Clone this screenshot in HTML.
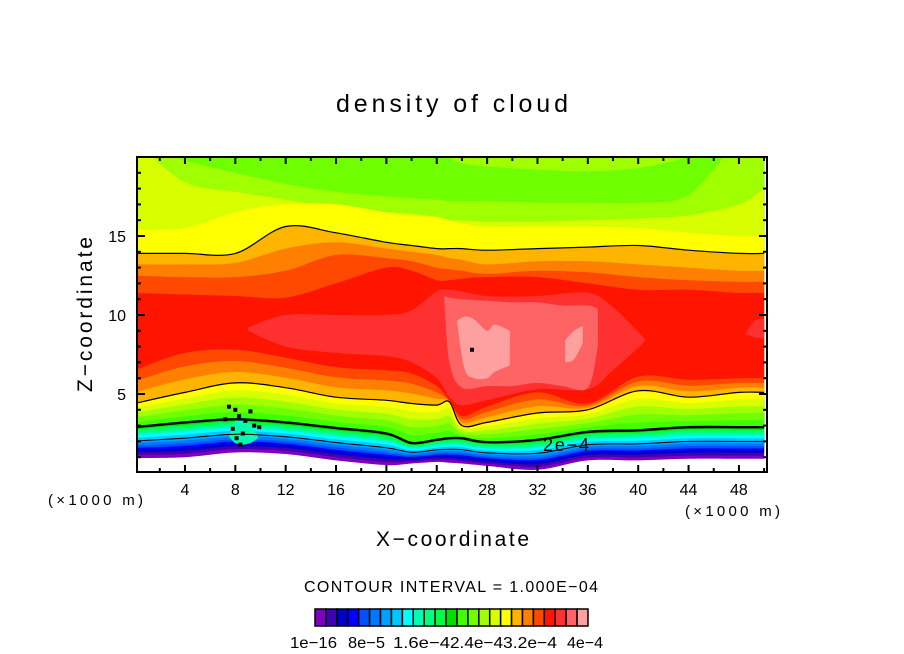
<!DOCTYPE html>
<html><head><meta charset="utf-8"><style>
html,body{margin:0;padding:0;background:#fff;}
svg{display:block;font-family:"Liberation Sans",sans-serif;}
</style></head><body>
<svg id="chart" width="904" height="654" viewBox="0 0 904 654" xmlns="http://www.w3.org/2000/svg">
<defs><clipPath id="plotclip"><rect x="137" y="157" width="630" height="315"/></clipPath></defs>
<rect width="904" height="654" fill="#fff"/>
<text x="336" y="112" font-size="25" textLength="232" lengthAdjust="spacing">density of cloud</text>
<g id="field" clip-path="url(#plotclip)"></g>
<g id="lines" clip-path="url(#plotclip)"></g>
<rect x="137" y="157" width="630" height="315" fill="none" stroke="#000" stroke-width="2"/>
<g id="ticks"></g>
<text x="48" y="505" font-size="15" textLength="95" lengthAdjust="spacing">(×1000 m)</text>
<text x="685" y="516" font-size="15" textLength="95" lengthAdjust="spacing">(×1000 m)</text>
<text x="376" y="546" font-size="21" textLength="153" lengthAdjust="spacing">X−coordinate</text>
<text transform="translate(92,392) rotate(-90)" font-size="21" textLength="155" lengthAdjust="spacing">Z−coordinate</text>
<text x="304" y="592" font-size="16" textLength="294">CONTOUR INTERVAL = 1.000E−04</text>
<g id="cbar"></g>
</svg>
<script>
// ---- data ----
const colors = ['#8000c0','#4000b0','#0000c8','#0000ff','#0050ff','#0078ff','#00a0ff','#00c8ff','#00ffff','#00ffb0','#00ff80','#00ff40','#00e000','#40ff00','#70ff00','#a0ff00','#d8ff00','#ffff00','#ffb400','#ff8000','#ff4800','#ff1400','#ff3030','#ff6464','#ffa0a0'];
const colorbarLabels = ['1e−16','8e−5','1.6e−4','2.4e−4','3.2e−4','4e−4'];
const xs = [0,4,8,12,16,20,22,24,25,26,28,32,36,40,44,48,50];
const groundZ = [0.95,1.0,1.3,1.2,0.8,0.5,0.6,0.7,0.65,0.6,0.45,0.2,0.8,0.8,0.9,0.9,0.9];
const thickZ  = [2.9,3.2,3.4,3.2,2.85,2.5,1.9,2.1,2.2,2.2,1.95,2.1,2.6,2.7,2.9,2.9,2.9];
const lowC19Z = [4.4,5.1,5.7,5.4,4.8,4.6,4.4,4.3,4.5,3.0,3.2,3.8,4.0,5.2,4.8,5.1,5.1];
const redBaseZ= [6.5,7.6,7.8,7.3,6.7,6.5,6.3,5.5,4.6,3.6,4.2,5.1,4.4,6.1,5.9,6.0,6.0];
const topC16Z = [21,19.8,19.0,18.3,17.8,17.5,17.4,17.3,17.2,17.2,17.2,17.1,17.1,17.1,17.6,21,21];
const topC17Z = [21,18.4,17.8,17.3,16.8,16.5,16.4,16.2,16.0,16.0,15.9,15.9,16.0,16.1,16.3,17.0,18.0];
const topC18Z = [15.4,15.5,16.5,17.0,17.0,16.5,16.3,16.2,16.0,15.8,15.6,15.6,15.6,15.5,15.2,15.0,15.0];
const topC19Z = [13.9,13.9,13.9,15.6,15.2,14.6,14.4,14.2,14.2,14.2,14.1,14.2,14.3,14.4,14.1,13.9,13.9];
const topC20Z = [13.2,13.2,13.3,14.2,14.6,14.2,14.0,13.8,13.6,13.5,13.2,13.4,13.4,13.2,13.0,12.8,12.8];
const topC21Z = [12.5,12.4,12.4,12.8,13.8,13.6,13.4,13.0,12.9,12.8,12.6,12.8,12.7,12.4,12.2,12.1,12.1];
const topC22Z = [11.4,11.3,11.2,11.1,12.0,13.0,12.8,12.2,12.2,12.3,12.4,12.4,12.0,11.6,11.6,11.4,11.4];
const capC16Z = [21,21,21,21,21,21,21,21,20,19.6,19.4,19.2,19.1,19.3,20,21,21];
// fractional positions of intermediate level boundaries between key contours
const lowFrac = [0,0.1,0.19,0.26,0.33,0.4,0.48,0.55,0.65,0.74,0.8,0.87,0.93,1];
const midFrac = [0,0.2,0.4,0.6,0.8,1];
const upFrac  = [0,0.33,0.66,1];
// core segments
const c23X = [9,12,16,20,22,24,25,26,28,32,36,38,40.5];
const c23Top = [9.2,10.0,10.0,10.0,10.3,11.5,11.6,11.5,11.2,11.2,11.4,10.5,8.5];
const c23Bot = [9.0,8.0,7.6,7.4,7.0,6.0,4.8,4.3,4.6,5.3,5.3,6.5,8.3];
const c23bX = [48.5,49.2,50]; const c23bTop=[8.8,9.6,9.8]; const c23bBot=[8.8,8.6,8.5];
const c24X = [24.6,25,26,28,30,32,34,36,36.8];
const c24Top = [11.2,11.1,11.0,10.9,10.8,10.8,10.6,10.6,10.4];
const c24Bot = [11.0,7.0,5.4,5.5,5.5,5.7,5.5,5.4,8.0];
const c25X = [25.6,26.2,27,28,28.6,29.8];
const c25Top = [9.6,9.9,9.7,9.0,9.4,9.0];
const c25Bot = [9.6,6.6,6.0,6.0,6.4,6.8];
const c25bX = [34.2,34.9,35.6]; const c25bTop=[8.4,9.0,9.3]; const c25bBot=[7.0,7.2,8.2];
const mountX = [7.5,8,8.6,9.2,9.8]; const mountTop=[2.4,3.3,3.6,3.0,2.3]; const mountBot=[2.3,1.9,1.8,1.9,2.2];
const noiseX = [7.5,8,8.3,8.8,9.2,7.8,8.6,9.5,8.1,7.2,9.9,8.4,26.8];
const noiseZ = [4.2,4.0,3.6,3.3,3.9,2.8,2.5,3.0,2.2,3.4,2.9,1.8,7.8];
const xTicks = [4,8,12,16,20,24,28,32,36,40,44,48];
const zTicks = [5,10,15];

// ---- axes ----
const X = v => 134.6 + v*12.59;
const Z = v => 473 - 15.8*v;
const NS = 'http://www.w3.org/2000/svg';
function mk(tag, attrs, parent){ const e=document.createElementNS(NS,tag); for(const k in attrs) e.setAttribute(k,attrs[k]); parent.appendChild(e); return e; }
function curve(pts){
  let d='';
  for(let i=0;i<pts.length-1;i++){
    const p0=pts[Math.max(i-1,0)],p1=pts[i],p2=pts[i+1],p3=pts[Math.min(i+2,pts.length-1)];
    const c1=[p1[0]+(p2[0]-p0[0])/6,p1[1]+(p2[1]-p0[1])/6], c2=[p2[0]-(p3[0]-p1[0])/6,p2[1]-(p3[1]-p1[1])/6];
    d+=` C${c1[0].toFixed(1)},${c1[1].toFixed(1)} ${c2[0].toFixed(1)},${c2[1].toFixed(1)} ${p2[0].toFixed(1)},${p2[1].toFixed(1)}`;
  }
  return d;
}
function bandPath(xa, top, bot){
  const t = xa.map((x,i)=>[X(x),Z(Math.max(top[i],bot[i]))]);
  const b = xa.map((x,i)=>[X(x),Z(bot[i])]).reverse();
  return `M${t[0][0]},${t[0][1]}`+curve(t)+` L${b[0][0]},${b[0][1]}`+curve(b)+' Z';
}
const field = document.getElementById('field');
const lines = document.getElementById('lines');
function band(c, xa, top, bot, name){
  const p = mk('path',{d:bandPath(xa,top,bot),fill:colors[c-1]},field);
  
  
}
const lerp=(a,b,f)=>a.map((v,i)=>v+(b[i]-v)*f);
const lower = {};
for(let c=1;c<=14;c++) lower[c]=lerp(groundZ,thickZ,lowFrac[c-1]);
for(let c=15;c<=19;c++) lower[c]=lerp(thickZ,lowC19Z,midFrac[c-14]);
for(let c=20;c<=22;c++) lower[c]=lerp(lowC19Z,redBaseZ,upFrac[c-19]);
const upper = {16:topC16Z,17:topC17Z,18:topC18Z,19:topC19Z,20:topC20Z,21:topC21Z,22:topC22Z};
const flatTop = xs.map(()=>21);
for(let c=1;c<=22;c++){
  band(c, xs, upper[c]||flatTop, lower[c], 'level-band-'+c);
  if(c===16) band(16, xs, flatTop, capC16Z, 'level-band-16-cap');
}
band(23,c23X,c23Top,c23Bot,'level-band-23');
band(23,c23bX,c23bTop,c23bBot,'level-band-23-right');
band(24,c24X,c24Top,c24Bot,'level-band-24');
band(25,c25X,c25Top,c25Bot,'level-band-25');
band(25,c25bX,c25bTop,c25bBot,'level-band-25-small');
band(10,mountX,mountTop,mountBot,'mountain-cyan-patch');

function line(xa, za, w, name){
  const pts = xa.map((x,i)=>[X(x),Z(za[i])]);
  const p = mk('path',{d:`M${pts[0][0]},${pts[0][1]}`+curve(pts),fill:'none',stroke:'#000','stroke-width':w},lines);
  
  
}
line(xs, topC19Z, 1.2, 'contour-upper');
line(xs, lowC19Z, 1.2, 'contour-lower');
line(xs, thickZ, 2.4, 'contour-2e-4');
line(xs, lower[8], 1, 'contour-low');
noiseX.forEach((x,i)=>{
  const r = mk('rect',{x:X(x)-2,y:Z(noiseZ[i])-2,width:4,height:4,fill:'#000'},lines);
  
  
});
const lbl = mk('text',{x:543,y:451,'font-size':18,textLength:46},lines);


lbl.textContent='2e−4';

const tk = document.getElementById('ticks');
for(let v=2; v<=50; v+=2){
  const big = v%4===0, L = big?7:4;
  mk('line',{x1:X(v),x2:X(v),y1:472,y2:472-L,stroke:'#000','stroke-width':2},tk);
  mk('line',{x1:X(v),x2:X(v),y1:157,y2:157+L,stroke:'#000','stroke-width':2},tk);
}
for(let v=1; v<20; v++){
  const big = v%5===0, L = big?8:4;
  mk('line',{x1:137,x2:137+L,y1:Z(v),y2:Z(v),stroke:'#000','stroke-width':2},tk);
  mk('line',{x1:767,x2:767-L,y1:Z(v),y2:Z(v),stroke:'#000','stroke-width':2},tk);
}
xTicks.forEach(v=>{
  const t = mk('text',{x:X(v),y:495,'text-anchor':'middle','font-size':16},tk);
  
  
  t.textContent=v;
});
zTicks.forEach(v=>{
  const t = mk('text',{x:126,y:Z(v)+6,'text-anchor':'end','font-size':16},tk);
  
  
  t.textContent=v;
});

const cb = document.getElementById('cbar');
const w = 273/colors.length;
colors.forEach((c,i)=>{
  const r = mk('rect',{x:315+i*w,y:609,width:w,height:17,fill:c,stroke:'#000','stroke-width':1.5},cb);
  
  
});
const lblX = [290,348,393,450,503,567], lblW=[47,37,57,53,54,36];
colorbarLabels.forEach((s,i)=>{
  const t = mk('text',{x:lblX[i],y:648,'font-size':16,textLength:lblW[i],lengthAdjust:'spacingAndGlyphs'},cb);
  
  
  t.textContent=s;
});
</script>
</body></html>
